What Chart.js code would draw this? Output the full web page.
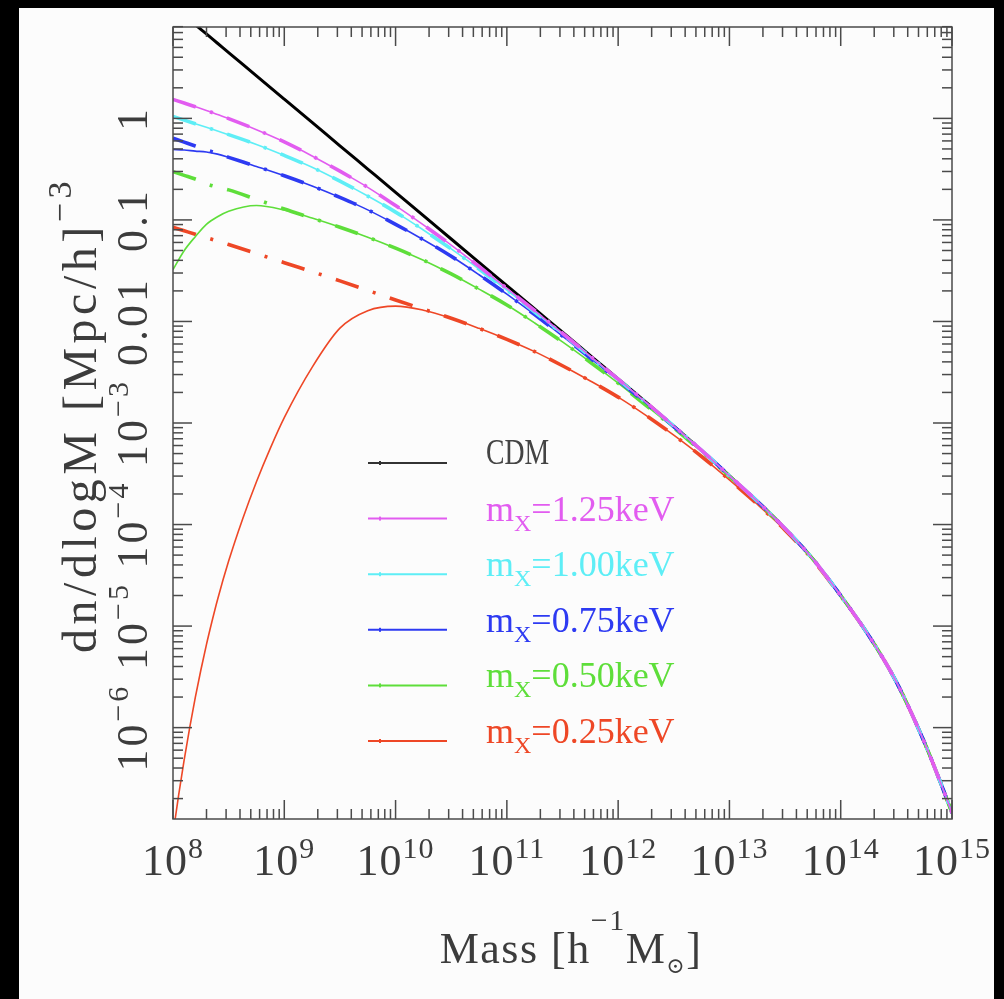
<!DOCTYPE html>
<html><head><meta charset="utf-8">
<script src="https://cdn.jsdelivr.net/npm/chart.js@4.4.1/dist/chart.umd.min.js"></script>
<style>
html,body{margin:0;padding:0;background:#000;width:1004px;height:999px;overflow:hidden;}
#panel{position:absolute;left:19px;top:8px;width:975px;height:991px;background:#fcfcfc;}
canvas{display:block;}
</style></head><body>
<div id="panel"><canvas id="c" width="975" height="991"></canvas></div>
<script>
// ---------- data ----------
const massGrid = [1e8, 1.259e8, 1.585e8, 1.995e8, 2.512e8, 3.162e8, 5.623e8, 1e9, 1.778e9, 3.162e9, 5.623e9,
  1e10, 1.778e10, 3.162e10, 5.623e10, 1e11, 1.778e11, 3.162e11, 5.623e11, 1e12, 1.778e12, 3.162e12, 5.623e12,
  1e13, 1.778e13, 3.162e13, 5.623e13, 1e14, 1.778e14, 3.162e14, 5.623e14, 7.943e14, 1e15];

const cdmValues = [12.8, 10.35, 8.37, 6.79, 5.495, 4.45, 2.62, 1.545, 0.912, 0.537, 0.317,
  0.187, 0.110, 0.0649, 0.0382, 0.02254, 0.01327, 7.834e-3, 4.613e-3, 2.723e-3, 1.603e-3, 9.333e-4, 5.370e-4,
  3.020e-4, 1.698e-4, 9.120e-5, 4.571e-5, 1.995e-5, 8.128e-6, 2.818e-6, 7.244e-7, 2.818e-7, 1.445e-7];

const m125Values = [1.538, 1.416, 1.303, 1.197, 1.091, 0.9954, 0.7745, 0.5875, 0.4266, 0.3020, 0.2094,
  0.1384, 8.933e-2, 5.649e-2, 3.483e-2, 2.113e-2, 1.282e-2, 7.656e-3, 4.560e-3, 2.704e-3, 1.603e-3, 9.333e-4, 5.370e-4,
  3.020e-4, 1.698e-4, 9.120e-5, 4.571e-5, 1.995e-5, 8.128e-6, 2.818e-6, 7.244e-7, 2.818e-7, 1.445e-7];

const m100Values = [1.047, 0.9616, 0.8851, 0.8166, 0.7516, 0.6918, 0.5534, 0.4315, 0.3296, 0.2410, 0.1718,
  0.1194, 7.962e-2, 5.176e-2, 3.281e-2, 2.037e-2, 1.239e-2, 7.516e-3, 4.498e-3, 2.685e-3, 1.592e-3, 9.333e-4, 5.370e-4,
  3.020e-4, 1.698e-4, 9.120e-5, 4.571e-5, 1.995e-5, 8.128e-6, 2.818e-6, 7.244e-7, 2.818e-7, 1.445e-7];

const m075Smooth = [0.6368, 0.5834, 0.5346, 0.4909, 0.4498, 0.4130, 0.3365, 0.2723, 0.2158, 0.1667, 0.1256,
  9.057e-2, 6.383e-2, 4.385e-2, 2.884e-2, 1.858e-2, 1.167e-2, 7.178e-3, 4.355e-3, 2.630e-3, 1.570e-3, 9.226e-4, 5.370e-4,
  3.020e-4, 1.698e-4, 9.120e-5, 4.571e-5, 1.995e-5, 8.128e-6, 2.818e-6, 7.244e-7, 2.818e-7, 1.445e-7];
const m075Values = [0.4955, 0.4875, 0.4764, 0.4667, 0.4446, 0.4130, 0.3365, 0.2723, 0.2158, 0.1667, 0.1256,
  9.057e-2, 6.383e-2, 4.385e-2, 2.884e-2, 1.858e-2, 1.167e-2, 7.178e-3, 4.355e-3, 2.630e-3, 1.570e-3, 9.226e-4, 5.370e-4,
  3.020e-4, 1.698e-4, 9.120e-5, 4.571e-5, 1.995e-5, 8.128e-6, 2.818e-6, 7.244e-7, 2.818e-7, 1.445e-7];

const m050Smooth = [0.2985, 0.2748, 0.2529, 0.2270, 0.2099, 0.1977, 0.1592, 0.1279, 0.1042, 8.472e-2, 6.761e-2,
  5.272e-2, 4.009e-2, 2.938e-2, 2.084e-2, 1.452e-2, 9.661e-3, 6.281e-3, 3.972e-3, 2.466e-3, 1.496e-3, 8.974e-4, 5.236e-4,
  2.985e-4, 1.687e-4, 9.120e-5, 4.571e-5, 1.995e-5, 8.128e-6, 2.818e-6, 7.244e-7, 2.818e-7, 1.445e-7];
const m050Values = [3.243e-2, 4.977e-2, 6.839e-2, 9.057e-2, 0.1076, 0.1219, 0.1387, 0.1250, 0.1042, 8.472e-2, 6.761e-2,
  5.272e-2, 4.009e-2, 2.938e-2, 2.084e-2, 1.452e-2, 9.661e-3, 6.281e-3, 3.972e-3, 2.466e-3, 1.496e-3, 8.974e-4, 5.236e-4,
  2.985e-4, 1.687e-4, 9.120e-5, 4.571e-5, 1.995e-5, 8.128e-6, 2.818e-6, 7.244e-7, 2.818e-7, 1.445e-7];

const m025Smooth = [8.453e-2, 7.816e-2, 7.228e-2, 6.699e-2, 6.194e-2, 5.728e-2, 4.667e-2, 3.793e-2, 3.090e-2, 2.512e-2, 2.023e-2,
  1.626e-2, 1.321e-2, 1.076e-2, 8.551e-3, 6.653e-3, 5.047e-3, 3.664e-3, 2.594e-3, 1.799e-3, 1.189e-3, 7.586e-4, 4.677e-4,
  2.754e-4, 1.585e-4, 8.810e-5, 4.467e-5, 1.972e-5, 8.128e-6, 2.818e-6, 7.244e-7, 2.818e-7, 1.445e-7];
// the 0.25 keV solid curve rises steeply at low mass, so it is read on a finer mass grid
const m025Mass = [1e8, 1.122e8, 1.259e8, 1.413e8, 1.585e8, 1.778e8, 1.995e8, 2.239e8, 2.512e8, 3.162e8, 4.217e8, 5.623e8, 7.499e8,
  1e9, 1.778e9, 3.162e9, 5.623e9, 1e10, 1.778e10, 3.162e10, 5.623e10, 1e11, 1.778e11, 3.162e11, 5.623e11,
  1e12, 1.778e12, 3.162e12, 5.623e12, 1e13, 1.778e13, 3.162e13, 5.623e13, 1e14, 1.778e14, 3.162e14, 5.623e14, 7.943e14, 1e15];
const m025Values = [8.91e-8, 2.138e-7, 4.786e-7, 1.0e-6, 1.972e-6, 3.673e-6, 6.531e-6, 1.109e-5, 1.820e-5, 4.365e-5, 1.130e-4, 2.642e-4, 5.662e-4,
  1.130e-3, 3.532e-3, 8.590e-3, 1.276e-2, 1.416e-2, 1.291e-2, 1.076e-2, 8.551e-3, 6.653e-3, 5.047e-3, 3.664e-3, 2.594e-3,
  1.799e-3, 1.189e-3, 7.586e-4, 4.677e-4, 2.754e-4, 1.585e-4, 8.810e-5, 4.467e-5, 1.972e-5, 8.128e-6, 2.818e-6, 7.244e-7, 2.818e-7, 1.445e-7];

const legendMasses = ['1.25', '1.00', '0.75', '0.50', '0.25'];
const xTickValues = [1e8, 1e9, 1e10, 1e11, 1e12, 1e13, 1e14, 1e15];
const xTickExps = ['8', '9', '10', '11', '12', '13', '14', '15'];
const yTickValues = [1, 0.1, 0.01, 1e-3, 1e-4, 1e-5, 1e-6];
const yTickBase = ['1', '0.1', '0.01', '10', '10', '10', '10'];
const yTickSup = ['', '', '', '\u22123', '\u22124', '\u22125', '\u22126'];

// ---------- styles ----------
const FONT = '"Liberation Serif", "DejaVu Serif", serif';
const COL = { cdm: '#000000', m125: '#e25cf0', m100: '#5eeef6', m075: '#2d3af2', m050: '#5ede3a', m025: '#ee4726' };
const DASHDOT = [24, 15, 3, 15];

const pts = (mass, arr) => mass.map((m, i) => ({ x: m, y: arr[i] }));
const solid = (label, mass, arr, color) => ({ label, data: pts(mass, arr), borderColor: color, borderWidth: 1.6,
  pointRadius: 0, cubicInterpolationMode: 'monotone', fill: false });
const dashed = (label, arr, color) => ({ label, data: pts(massGrid, arr), borderColor: color, borderWidth: 3.6,
  borderDash: DASHDOT, pointRadius: 0, cubicInterpolationMode: 'monotone', fill: false });

const datasets = [
  dashed('m125 smooth', m125Values, COL.m125), solid('m125', massGrid, m125Values, COL.m125),
  dashed('m100 smooth', m100Values, COL.m100), solid('m100', massGrid, m100Values, COL.m100),
  dashed('m075 smooth', m075Smooth, COL.m075), solid('m075', massGrid, m075Values, COL.m075),
  dashed('m050 smooth', m050Smooth, COL.m050), solid('m050', massGrid, m050Values, COL.m050),
  dashed('m025 smooth', m025Smooth, COL.m025), solid('m025', m025Mass, m025Values, COL.m025),
  { label: 'CDM', data: pts(massGrid, cdmValues), borderColor: COL.cdm, borderWidth: 3, pointRadius: 0,
    cubicInterpolationMode: 'monotone', fill: false }
];

function drawRuns(ctx, runs, x, y, center, spacing) {
  ctx.letterSpacing = (spacing || 0) + 'px';
  const w = runs.map(r => { ctx.font = r[1] + 'px ' + FONT; return ctx.measureText(r[0]).width; });
  const total = w.reduce((a, b) => a + b, 0);
  let cx = center ? x - total / 2 : x;
  runs.forEach((r, i) => { ctx.font = r[1] + 'px ' + FONT; ctx.fillText(r[0], cx, y + r[2]); cx += w[i]; });
  ctx.letterSpacing = '0px';
}

const decor = {
  id: 'decor',
  afterDatasetsDraw(chart) {
    const { ctx, chartArea: a, scales: { x, y } } = chart;
    ctx.save();
    ctx.strokeStyle = '#4a4a4a';
    ctx.lineWidth = 1.5;
    ctx.strokeRect(a.left, a.top, a.right - a.left, a.bottom - a.top);
    const seg = (x1, y1, x2, y2) => { ctx.beginPath(); ctx.moveTo(x1, y1); ctx.lineTo(x2, y2); ctx.stroke(); };
    // x ticks
    for (let e = 8; e <= 15; e++) for (let k = 1; k <= 9; k++) {
      const px = x.getPixelForValue(k * Math.pow(10, e));
      if (px < a.left - 0.5 || px > a.right + 0.5) continue;
      const L = k === 1 ? 19 : 10;
      seg(px, a.bottom, px, a.bottom - L); seg(px, a.top, px, a.top + L);
    }
    // y ticks
    for (let e = -8; e <= 1; e++) for (let k = 1; k <= 9; k++) {
      const py = y.getPixelForValue(k * Math.pow(10, e));
      if (py < a.top - 0.5 || py > a.bottom + 0.5) continue;
      const L = k === 1 ? 19 : 10;
      seg(a.left, py, a.left + L, py); seg(a.right, py, a.right - L, py);
    }
    // tick labels
    ctx.fillStyle = '#3c3c3c';
    ctx.textAlign = 'left'; ctx.textBaseline = 'alphabetic';
    xTickValues.forEach((v, i) => {
      const px = x.getPixelForValue(v);
      drawRuns(ctx, [['10', 44, 0], [xTickExps[i], 30, -17]], px, 867, true, 1);
    });
    yTickValues.forEach((v, i) => {
      const py = y.getPixelForValue(v);
      ctx.save(); ctx.translate(128, py); ctx.rotate(-Math.PI / 2);
      drawRuns(ctx, [[yTickBase[i], 44, 0], [yTickSup[i], 30, -19]], 0, 0, true, 3);
      ctx.restore();
    });
    // axis titles
    drawRuns(ctx, [['Mass [h', 44, 0], ['\u22121', 30, -33], ['M', 44, 0], ['\u2299', 22, 10], [']', 44, 0]], 552, 955, true, 1.5);
    ctx.save(); ctx.translate(77, 407); ctx.rotate(-Math.PI / 2);
    drawRuns(ctx, [['dn/dlogM [Mpc/h]', 48, 0], ['\u22123', 34, -25]], 0, 0, true, 4.5);
    ctx.restore();
    // legend
    const names = ['CDM'].concat(legendMasses);
    const cols = [COL.cdm, COL.m125, COL.m100, COL.m075, COL.m050, COL.m025];
    names.forEach((n, i) => {
      const ly = 455 + i * 55.6;
      ctx.strokeStyle = i === 0 ? '#333' : cols[i];
      ctx.lineWidth = 2;
      seg(349, ly, 428, ly);
      ctx.fillStyle = i === 0 ? '#333' : cols[i];
      ctx.fillRect(360, ly - 2, 2, 4);
      if (i === 0) {
        ctx.fillStyle = '#444';
        ctx.save(); ctx.translate(467, ly + 1); ctx.scale(0.77, 1);
        drawRuns(ctx, [['CDM', 36, 0]], 0, 0, false);
        ctx.restore();
      } else {
        drawRuns(ctx, [['m', 36, 0], ['X', 24, 10], ['=' + n + 'keV', 36, 0]], 467, ly + 2, false);
      }
    });
    ctx.restore();
  }
};

new Chart(document.getElementById('c'), {
  type: 'line',
  data: { datasets },
  options: {
    responsive: false,
    animation: false,
    devicePixelRatio: 1,
    layout: { padding: { left: 154, right: 42, top: 19, bottom: 180 } },
    plugins: { legend: { display: false }, tooltip: { enabled: false } },
    scales: {
      x: { type: 'logarithmic', min: 1e8, max: 1e15, display: false },
      y: { type: 'logarithmic', min: 1.259e-7, max: 7.943, display: false }
    }
  },
  plugins: [decor]
});
</script>
</body></html>
